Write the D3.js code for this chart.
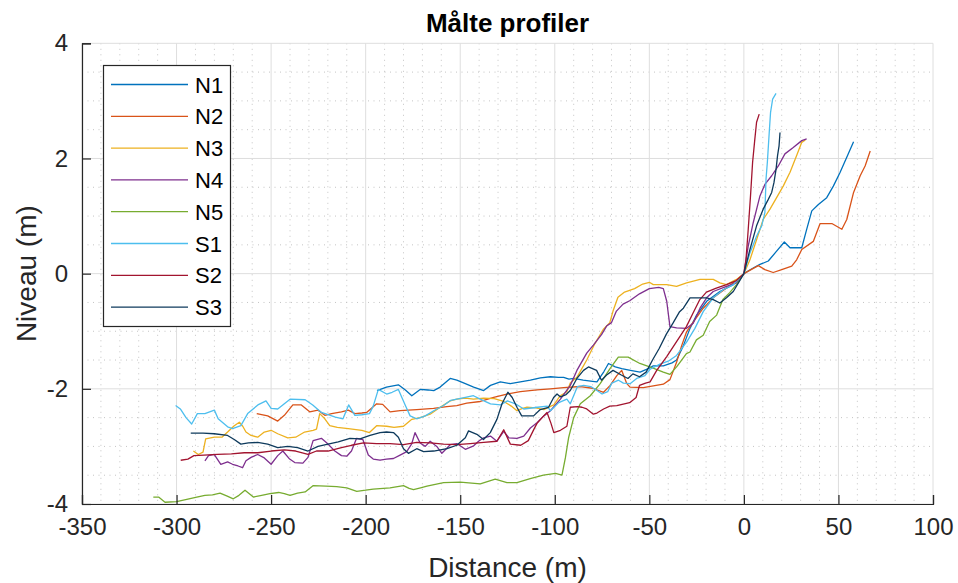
<!DOCTYPE html>
<html><head><meta charset="utf-8">
<script src="https://cdn.jsdelivr.net/npm/d3@7"></script>
<style>
html,body{margin:0;padding:0;background:#fff;}
svg{display:block;font-family:"Liberation Sans",Arial,Helvetica,sans-serif;}
</style></head>
<body><svg id="c" width="958" height="583"></svg>
<script>
const seriesNames = ["N1","N2","N3","N4","N5","S1","S2","S3"];
const seriesColors = ["#0072BD","#D95319","#EDB120","#7E2F8E","#77AC30","#4DBEEE","#A2142F","#0E3A5C"];
const xTicks = [-350,-300,-250,-200,-150,-100,-50,0,50,100];
const yTicks = [-4,-2,0,2,4];

const N1 = [[-194,-2.03],[-189,-1.97],[-182.7,-1.93],[-179,-2.02],[-175.6,-2.12],[-171.2,-2.01],[-167,-2.02],[-164,-2.03],[-160.6,-1.97],[-155.3,-1.82],[-151.8,-1.85],[-147.3,-1.91],[-142.9,-1.97],[-137.6,-2.03],[-134,-1.94],[-128.8,-1.88],[-123.5,-1.91],[-118.2,-1.88],[-112.9,-1.85],[-107.6,-1.81],[-102.3,-1.79],[-98,-1.8],[-95.3,-1.8],[-92.5,-1.83],[-90,-1.82],[-85,-1.85],[-80,-1.87],[-77.7,-1.88],[-74,-1.7],[-71.6,-1.56],[-68,-1.62],[-64.6,-1.65],[-60,-1.68],[-54.9,-1.71],[-50,-1.64],[-47.9,-1.6],[-42.6,-1.6],[-38,-1.55],[-35.6,-1.5],[-32,-1.25],[-28.5,-0.95],[-25,-0.72],[-19.7,-0.48],[-12.7,-0.31],[-5.6,-0.19],[0,0],[4,0.08],[8.5,0.16],[12.9,0.22],[17.3,0.39],[21.4,0.55],[24.4,0.45],[30.6,0.45],[33.2,0.77],[35.9,1.09],[39.4,1.2],[43.8,1.32],[47.3,1.52],[50.9,1.76],[54.4,2.02],[58,2.29]];
const N2 = [[-257.6,-2.43],[-251.8,-2.47],[-246.5,-2.56],[-243,-2.46],[-238.5,-2.28],[-234,-2.28],[-229.6,-2.4],[-225.2,-2.37],[-221.6,-2.46],[-218,-2.43],[-212.8,-2.4],[-209.2,-2.37],[-205.7,-2.43],[-202,-2.42],[-199.5,-2.41],[-194.2,-2.26],[-191,-2.27],[-187.1,-2.4],[-181.8,-2.38],[-173,-2.36],[-164.1,-2.34],[-157.1,-2.31],[-151.8,-2.29],[-146.5,-2.25],[-139.4,-2.22],[-132.3,-2.15],[-125.3,-2.09],[-118.2,-2.05],[-109.4,-2.02],[-102.3,-2.0],[-95.3,-1.98],[-86.5,-1.96],[-80,-1.99],[-74.2,-2.06],[-70.7,-1.94],[-67.2,-1.77],[-64.6,-1.68],[-61.9,-1.91],[-60.2,-1.97],[-53.2,-1.98],[-47.9,-1.95],[-42.6,-1.92],[-39.1,-1.84],[-35.6,-1.54],[-32.9,-1.25],[-30.3,-1.01],[-26.8,-0.84],[-21.5,-0.6],[-16.2,-0.42],[-9.2,-0.25],[-4,-0.12],[0,0],[7.6,0.14],[11.1,0.07],[15.5,0.02],[20,0.07],[25.3,0.13],[27.9,0.24],[30.6,0.42],[36.7,0.56],[40.3,0.87],[46.5,0.87],[51.8,0.77],[54.4,0.94],[58,1.41],[61.5,1.7],[64.1,1.87],[66.8,2.13]];
const N3 = [[-291.1,-3.08],[-288.5,-3.14],[-286,-3.1],[-284.6,-2.87],[-280,-2.84],[-276,-2.84],[-273,-2.75],[-269.5,-2.64],[-266.8,-2.58],[-265,-2.65],[-263.3,-2.75],[-260.6,-2.81],[-257.1,-2.84],[-253.6,-2.75],[-250,-2.72],[-246.5,-2.78],[-241.2,-2.85],[-237,-2.84],[-232.3,-2.75],[-227.8,-2.72],[-226,-2.7],[-224.3,-2.43],[-221.6,-2.52],[-219,-2.64],[-215,-2.67],[-209.2,-2.69],[-202,-2.72],[-198,-2.76],[-194.2,-2.64],[-188.9,-2.65],[-185,-2.67],[-180,-2.65],[-175.6,-2.53],[-171.2,-2.5],[-165.9,-2.44],[-160.6,-2.32],[-155.3,-2.21],[-151.8,-2.18],[-147.3,-2.16],[-143,-2.18],[-137.6,-2.16],[-132,-2.17],[-127,-2.22],[-123,-2.3],[-120,-2.38],[-117,-2.34],[-114.7,-2.32],[-110,-2.33],[-105.8,-2.36],[-102,-2.3],[-100.5,-2.28],[-97.1,-2.12],[-93.6,-2.05],[-91.8,-1.9],[-88.3,-1.8],[-83.1,-1.5],[-78.7,-1.21],[-74.4,-0.97],[-70.9,-0.85],[-69.2,-0.65],[-66.6,-0.41],[-63.1,-0.32],[-57.8,-0.26],[-53.5,-0.18],[-50,-0.15],[-47.9,-0.19],[-40.8,-0.19],[-35.6,-0.22],[-30.3,-0.16],[-23.2,-0.1],[-16.2,-0.1],[-12.7,-0.16],[-9.2,-0.19],[-3.9,-0.1],[0,0],[3.2,0.24],[6.7,0.59],[10.2,0.94],[13.8,1.12],[17.3,1.32],[20.8,1.52],[24.4,1.76],[27.9,2.05],[30.6,2.28],[32.5,2.32]];
const N4 = [[-285,-3.25],[-283.1,-3.16],[-280.1,-3.14],[-276.6,-3.31],[-273,-3.27],[-270.4,-3.31],[-267.5,-3.34],[-265.1,-3.37],[-263.3,-3.25],[-260.6,-3.19],[-257.1,-3.14],[-253.6,-3.2],[-250,-3.31],[-246.5,-3.16],[-243.8,-3.08],[-240.2,-3.22],[-237.5,-3.28],[-233.2,-3.29],[-230.5,-3.19],[-227.8,-2.9],[-223.4,-2.86],[-219.9,-2.96],[-216.3,-3.08],[-212.8,-3.16],[-210,-3.17],[-207.5,-3.08],[-204.8,-2.86],[-201.5,-2.88],[-198.6,-3.15],[-196,-3.22],[-192.4,-3.24],[-189,-3.22],[-185.3,-3.21],[-181.8,-3.15],[-178.3,-3.09],[-175.6,-2.95],[-173.9,-2.76],[-171.2,-2.94],[-168.5,-3.0],[-165.9,-2.91],[-162.4,-3.0],[-159.7,-3.12],[-155.3,-2.97],[-151.8,-2.95],[-147.3,-3.05],[-142.9,-2.99],[-140.3,-2.91],[-137.6,-2.85],[-134,-2.82],[-130.6,-2.91],[-127,-2.74],[-124.3,-2.85],[-120,-2.86],[-116.4,-2.82],[-112.9,-2.68],[-109.4,-2.59],[-105.8,-2.47],[-102.3,-2.38],[-97,-2.18],[-91.8,-1.94],[-88.3,-1.68],[-83.1,-1.38],[-79.6,-1.24],[-75.3,-1.06],[-72.6,-0.91],[-70,-0.85],[-67.4,-0.65],[-63.9,-0.53],[-60.4,-0.47],[-55.2,-0.35],[-50,-0.26],[-45,-0.24],[-42.6,-0.26],[-40.8,-0.48],[-39.1,-0.92],[-35.6,-0.94],[-30.3,-0.95],[-26.8,-0.86],[-23.2,-0.6],[-19.7,-0.42],[-16.2,-0.31],[-9.2,-0.22],[-3.9,-0.16],[0,0],[2.3,0.48],[4.9,0.88],[8.5,1.35],[11.1,1.55],[14.7,1.7],[18.2,1.87],[21.7,2.08],[26.1,2.19],[30.6,2.31],[33.2,2.34]];
const N5 = [[-312.3,-3.88],[-309.5,-3.88],[-306.1,-3.97],[-300,-3.96],[-294.6,-3.92],[-289.3,-3.88],[-285,-3.85],[-281,-3.84],[-277,-3.81],[-273.5,-3.86],[-270,-3.91],[-267,-3.85],[-263.8,-3.76],[-259.4,-3.88],[-255,-3.85],[-250.6,-3.82],[-246,-3.8],[-243,-3.82],[-240,-3.85],[-236,-3.81],[-232,-3.79],[-227.7,-3.68],[-221,-3.69],[-215.3,-3.7],[-210,-3.72],[-204.7,-3.78],[-200,-3.76],[-196,-3.74],[-187.1,-3.72],[-180,-3.68],[-177,-3.73],[-174.7,-3.75],[-171,-3.72],[-167.6,-3.69],[-158.8,-3.63],[-150,-3.62],[-139.4,-3.65],[-131.5,-3.57],[-125.3,-3.63],[-120,-3.63],[-113,-3.56],[-106,-3.5],[-99.6,-3.47],[-96.2,-3.5],[-94.4,-3.2],[-92.7,-2.85],[-90,-2.5],[-86.5,-2.26],[-81.2,-2.12],[-76,-1.91],[-70.8,-1.65],[-66.4,-1.45],[-61.2,-1.45],[-55,-1.56],[-48,-1.64],[-42.6,-1.71],[-39.1,-1.75],[-35.6,-1.62],[-33.8,-1.54],[-30.4,-1.39],[-28.5,-1.36],[-25.1,-1.15],[-21.5,-1.07],[-18.1,-0.83],[-14.4,-0.72],[-11.1,-0.45],[-7.5,-0.33],[-3.9,-0.19],[0,0]];
const S1 = [[-300.5,-2.29],[-298,-2.35],[-295,-2.5],[-292,-2.61],[-289,-2.43],[-285,-2.43],[-280,-2.37],[-278,-2.52],[-273,-2.66],[-270.4,-2.69],[-266,-2.64],[-262.4,-2.43],[-257,-2.28],[-252.7,-2.21],[-250,-2.34],[-246.5,-2.35],[-240,-2.18],[-232,-2.19],[-228,-2.28],[-223.4,-2.41],[-216,-2.49],[-212,-2.52],[-209,-2.28],[-205.7,-2.46],[-202,-2.45],[-198,-2.43],[-196,-2.3],[-193.3,-2.01],[-188.9,-2.09],[-186,-2.06],[-182.7,-2.01],[-179,-2.29],[-176.5,-2.47],[-173,-2.52],[-168.5,-2.47],[-164,-2.38],[-158.8,-2.29],[-155,-2.2],[-151.8,-2.18],[-147.3,-2.15],[-143,-2.12],[-139.4,-2.18],[-134,-2.26],[-128.8,-2.28],[-125,-2.21],[-120.8,-2.26],[-116.4,-2.35],[-109,-2.32],[-104,-2.3],[-102.3,-2.38],[-97.9,-2.24],[-93.6,-2.18],[-91.8,-2.26],[-88,-1.96],[-84.7,-1.94],[-81,-1.96],[-77.7,-2.03],[-75,-2.09],[-72,-2.05],[-69.8,-1.9],[-66.3,-1.85],[-63.7,-1.9],[-60.2,-1.91],[-56.7,-1.82],[-52.3,-1.77],[-49.6,-1.66],[-44.4,-1.57],[-40,-1.52],[-35.6,-1.42],[-30.3,-1.19],[-25.9,-0.95],[-21.5,-0.66],[-16.2,-0.42],[-10.9,-0.28],[-5.6,-0.19],[0,0],[3.2,0.36],[6.7,0.65],[9.4,0.83],[11.1,1.06],[11.7,1.64],[12.4,1.93],[13.4,2.45],[14.1,2.8],[15.2,3.03],[17,3.13]];
const S2 = [[-297.8,-3.24],[-294,-3.22],[-290.8,-3.16],[-285.5,-3.15],[-278.4,-3.14],[-271,-3.13],[-264.2,-3.11],[-257,-3.11],[-250,-3.08],[-243,-3.06],[-237,-3.08],[-230.5,-3.14],[-226,-3.08],[-219.9,-3.08],[-212.8,-3.02],[-207.5,-2.98],[-201.2,-2.94],[-194.2,-2.95],[-187.1,-2.95],[-180,-2.97],[-173,-2.93],[-165.9,-2.94],[-158.8,-2.96],[-151.8,-2.97],[-144.7,-2.95],[-137.6,-2.93],[-130.6,-2.91],[-127,-2.71],[-123.5,-2.96],[-118,-2.98],[-114,-2.9],[-111,-2.7],[-109.4,-2.6],[-106.7,-2.5],[-104.1,-2.41],[-102,-2.6],[-100.5,-2.76],[-97,-2.72],[-93.6,-2.65],[-91.8,-2.32],[-88,-2.31],[-85.6,-2.32],[-83.1,-2.35],[-79.6,-2.44],[-77.7,-2.42],[-74.2,-2.35],[-70.9,-2.3],[-67.2,-2.29],[-60.4,-2.24],[-57,-2.15],[-55.2,-1.94],[-52,-1.9],[-49.6,-1.88],[-46.1,-1.68],[-40.8,-1.44],[-35.6,-1.18],[-30.4,-0.92],[-26.8,-0.68],[-23.3,-0.45],[-19.8,-0.32],[-14.6,-0.25],[-9.2,-0.19],[-4,-0.12],[0,0],[1.1,0.24],[2.3,0.77],[3.5,1.35],[4.6,1.93],[5.8,2.34],[6.7,2.63],[8.1,2.77]];
const S3 = [[-292.5,-2.77],[-286,-2.77],[-280.1,-2.78],[-273,-2.81],[-269.5,-2.88],[-266,-2.96],[-262,-2.94],[-257.1,-2.93],[-251.8,-2.96],[-246.5,-3.02],[-241.2,-3.0],[-236,-3.02],[-230.5,-3.08],[-225.2,-3.0],[-219.9,-2.96],[-214.5,-2.92],[-208.3,-2.86],[-203,-2.87],[-197.7,-2.81],[-192.4,-2.76],[-189,-2.75],[-185.3,-2.76],[-182.7,-2.84],[-180,-3.04],[-177.4,-3.12],[-173,-3.04],[-169.4,-3.09],[-164,-3.08],[-157,-3.04],[-151.8,-2.98],[-147.3,-2.85],[-145.6,-2.73],[-141.2,-2.79],[-137.7,-2.88],[-134.1,-2.76],[-130.6,-2.53],[-127.9,-2.26],[-124.8,-2.06],[-122.5,-2.15],[-120,-2.32],[-117.5,-2.47],[-111.2,-2.47],[-107.7,-2.36],[-103.3,-2.32],[-100.6,-2.15],[-98.8,-2.09],[-97,-2.14],[-94,-2.1],[-91.8,-2.03],[-88.3,-1.82],[-84.8,-1.68],[-82.2,-1.62],[-77.9,-1.68],[-75.3,-1.85],[-72.6,-1.76],[-69.2,-1.68],[-64.8,-1.76],[-61.3,-1.82],[-58.7,-1.74],[-55.2,-1.79],[-51.7,-1.71],[-48.3,-1.5],[-44.8,-1.3],[-41,-1.05],[-37.5,-0.86],[-34,-0.66],[-32,-0.6],[-28.5,-0.42],[-19.7,-0.42],[-16.2,-0.45],[-12.7,-0.51],[-9.2,-0.42],[-5.6,-0.31],[0,0],[3.2,0.42],[6.7,0.83],[10.2,1.12],[12.9,1.29],[14.7,1.41],[15.9,1.58],[17,1.81],[17.8,2.05],[18.6,2.22],[19.1,2.45]];
const seriesData = [N1,N2,N3,N4,N5,S1,S2,S3];

const svg = d3.select("#c");
const L=82, R=933, T=43.3, B=504;
const x = d3.scaleLinear().domain([-350,100]).range([L,R]);
const y = d3.scaleLinear().domain([-4,4]).range([B,T]);
const axisCol = "#262626";

// minor grid
const gMinor = svg.append("g");
d3.range(-350,101,10).filter(v=>v%50!==0).forEach(v=>{
  gMinor.append("line").attr("x1",x(v)).attr("x2",x(v)).attr("y1",T).attr("y2",B)
    .attr("stroke","#c4c4c4").attr("stroke-width",1).attr("stroke-dasharray","1,4.5");
});
d3.range(-4,4.01,0.5).filter(v=>Math.abs(v%2)>1e-6).forEach(v=>{
  gMinor.append("line").attr("x1",L).attr("x2",R).attr("y1",y(v)).attr("y2",y(v))
    .attr("stroke","#c4c4c4").attr("stroke-width",1).attr("stroke-dasharray","1,4.5");
});
// major grid
const gMajor = svg.append("g");
xTicks.forEach(v=>{
  gMajor.append("line").attr("x1",x(v)).attr("x2",x(v)).attr("y1",T).attr("y2",B)
    .attr("stroke","#dedede").attr("stroke-width",1);
});
yTicks.forEach(v=>{
  gMajor.append("line").attr("x1",L).attr("x2",R).attr("y1",y(v)).attr("y2",y(v))
    .attr("stroke","#dedede").attr("stroke-width",1);
});

// lines
const line = d3.line().x(d=>x(d[0])).y(d=>y(d[1]));
svg.append("clipPath").attr("id","pc").append("rect").attr("x",L).attr("y",T).attr("width",R-L).attr("height",B-T);
const gLines = svg.append("g").attr("clip-path","url(#pc)");
seriesData.forEach((s,i)=>{
  gLines.append("path").attr("d",line(s)).attr("fill","none")
    .attr("stroke",seriesColors[i]).attr("stroke-width",1.3).attr("stroke-linejoin","round");
});

// axes
const fmt = d=>String(d);
const xAxis = d3.axisBottom(x).tickValues(xTicks).tickSize(-9).tickPadding(14).tickFormat(fmt);
const yAxis = d3.axisLeft(y).tickValues(yTicks).tickSize(-9).tickPadding(14).tickFormat(fmt);
const gx = svg.append("g").attr("transform",`translate(0,${B})`).call(xAxis);
const gy = svg.append("g").attr("transform",`translate(${L},0)`).call(yAxis);
[gx,gy].forEach(g=>{
  g.select(".domain").attr("stroke",axisCol).attr("stroke-width",1.2);
  g.selectAll(".tick line").attr("stroke",axisCol).attr("stroke-width",1.2);
  g.selectAll(".tick text").attr("fill",axisCol).style("font-size","24px")
    .style("font-family","'Liberation Sans',Arial,sans-serif");
});

// titles
svg.append("text").attr("x",(L+R)/2).attr("y",32).attr("text-anchor","middle")
  .attr("fill","#000").style("font-weight","bold").style("font-size","26px").text("Målte profiler");
svg.append("text").attr("x",(L+R)/2).attr("y",577).attr("text-anchor","middle")
  .attr("fill",axisCol).style("font-size","28px").text("Distance (m)");
svg.append("text").attr("transform",`translate(36,${(T+B)/2}) rotate(-90)`).attr("text-anchor","middle")
  .attr("fill",axisCol).style("font-size","28px").text("Niveau (m)");

// legend
const lg = svg.append("g");
lg.append("rect").attr("x",103.5).attr("y",65.5).attr("width",127).attr("height",261)
  .attr("fill","#fff").attr("stroke",axisCol).attr("stroke-width",1.2);
seriesNames.forEach((n,i)=>{
  const yy = 84.5 + i*31.8;
  lg.append("line").attr("x1",111).attr("x2",188).attr("y1",yy).attr("y2",yy)
    .attr("stroke",seriesColors[i]).attr("stroke-width",1.3);
  lg.append("text").attr("x",195).attr("y",yy+8).attr("fill","#000")
    .style("font-size","22px").text(n);
});
</script></body></html>
